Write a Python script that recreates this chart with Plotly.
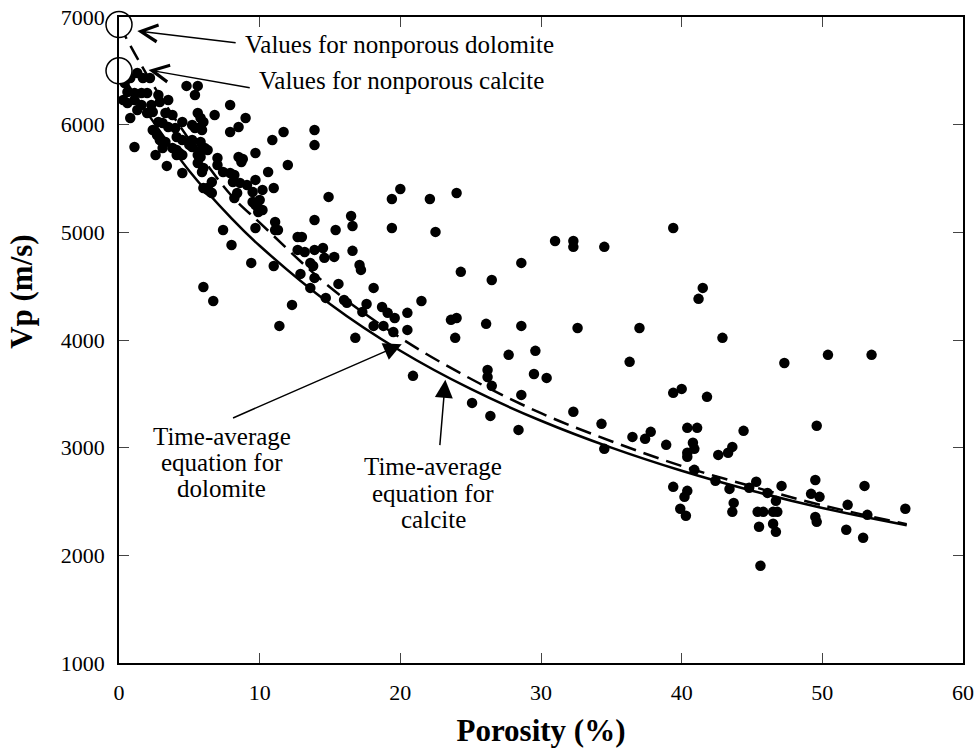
import plotly.graph_objects as go

# Measured porosity (%) and P-wave velocity (m/s)
porosity = [
    1.3, 0.8, 0.4, 1.7, 2.2, 4.8, 5.6, 5.4, 0.6, 1.1, 1.6, 2.0, 0.3, 0.6, 1.1, 2.8, 2.9, 3.5, 1.6, 2.3,
    2.4, 2.0, 1.3, 0.8, 3.3, 3.8, 5.6, 5.8, 2.8, 3.1, 3.5, 4.0, 4.5, 5.2, 2.4, 2.7, 5.4, 5.9, 4.1, 4.5,
    2.9, 3.3, 5.2, 5.8, 1.1, 3.1, 3.8, 4.1, 5.8, 6.3, 2.6, 4.1, 4.5, 5.6, 5.2, 3.4, 4.3, 4.5, 5.6, 5.9,
    6.3, 5.0, 6.8, 6.0, 5.8, 6.1, 5.8, 7.0, 6.0, 7.0, 6.6, 6.0, 6.5, 6.3, 6.6,
    7.9, 9.0, 8.5, 7.9, 11.7, 10.9, 9.7, 8.5, 8.7, 7.4, 7.9, 8.2, 10.6, 12.0, 8.1, 8.6, 9.1, 9.7, 8.4, 8.2,
    9.5, 10.2, 11.0, 9.5, 9.7, 10.0, 9.9, 10.2, 11.1, 11.1, 11.3, 9.7, 7.4, 8.0, 9.4, 11.0, 6.0, 6.7, 11.4, 12.3,
    9.8, 8.8,
    13.9, 13.9, 12.7, 13.0, 12.7, 13.2, 13.9, 14.5, 14.6, 15.3, 13.9, 14.9, 15.4, 16.5, 16.6, 16.6, 13.6, 13.8,
    17.1, 17.2, 12.9, 13.9, 13.6, 15.6, 18.1, 14.7, 16.0, 16.2, 17.6, 17.3, 18.7, 19.1, 19.6, 20.5, 21.5, 18.1,
    18.8, 19.5, 20.5, 16.8, 20.0, 19.4, 22.1, 24.0, 19.4, 22.5, 23.6, 24.0, 23.9, 24.3, 20.9, 25.1,
    26.5, 28.6, 26.1, 28.6, 27.7, 29.6, 26.2, 26.2, 26.5, 29.5, 30.4, 28.6, 26.4, 28.4, 31.0, 32.3, 32.3, 34.5,
    32.6, 32.3, 34.3, 34.5,
    39.4, 41.5, 41.2, 37.0, 42.9, 36.3, 39.4, 40.0, 41.8, 36.5, 37.4, 37.8, 38.9, 40.4, 41.1, 40.8, 40.9, 40.4,
    40.4, 44.4, 43.6, 43.3, 42.6, 40.9, 42.4, 43.4, 39.4, 40.4, 40.2, 43.7, 43.6, 39.9, 40.3,
    44.8, 45.3, 46.1, 46.7, 45.4, 45.8, 46.5, 46.8, 45.5, 46.5, 46.7, 45.6, 47.3, 50.4, 53.5, 49.6, 47.1, 49.5,
    53.0, 55.9, 52.9, 51.7, 51.8, 53.2, 49.2, 49.8, 49.5, 49.6,
]
vp = [
    6480, 6434, 6387, 6434, 6434, 6360, 6360, 6276, 6304, 6294, 6294, 6294, 6229, 6201, 6229, 6276, 6210, 6229, 6183, 6183,
    6118, 6109, 6136, 6062, 6109, 6090, 6109, 6062, 6025, 6016, 5979, 5969, 6025, 5997, 5951, 5904, 5969, 5951, 5886, 5858,
    5858, 5839, 5858, 5839, 5793, 5784, 5784, 5765, 5765, 5765, 5719, 5719, 5719, 5719, 5793, 5617, 5737, 5551, 5644, 5561,
    5412, 5812, 6090, 6025, 5979, 5784, 5700, 5691, 5598, 5626, 5468, 5412, 5375, 5394, 5366,
    6183, 6062, 5979, 5932, 5932, 5858, 5737, 5700, 5654, 5561, 5551, 5533, 5561, 5626, 5468, 5459, 5440, 5487, 5366, 5319,
    5375, 5394, 5412, 5282, 5254, 5301, 5189, 5208, 5096, 5022, 5022, 5041, 5022, 4883, 4716, 4688, 4493, 4363, 4131, 4326,
    5273, 5682,
    5950, 5810, 4957, 4957, 4837, 4818, 4837, 4855, 4763, 4772, 5115, 5329, 5022, 5152, 5059, 4828, 4716, 4688,
    4697, 4651, 4614, 4577, 4484, 4521, 4484, 4391, 4372, 4345, 4335, 4261, 4307, 4252, 4205, 4252, 4363, 4131,
    4131, 4075, 4094, 4020, 5403, 5310, 5310, 5366, 5041, 5004, 4187, 4205, 4020, 4633, 3667, 3416,
    4558, 4716, 4150, 4131, 3862, 3899, 3722, 3657, 3574, 3685, 3648, 3490, 3295, 3165, 4920, 4920, 4865, 4865,
    4112, 3333, 3221, 2989,
    5041, 4484, 4382, 4112, 4020, 3797, 3509, 3546, 3472, 3100, 3082, 3147, 3026, 3184, 3184, 3045, 2989, 2952,
    2915, 3156, 3007, 2952, 2933, 2794, 2692, 2617, 2636, 2599, 2543, 2487, 2404, 2432, 2367,
    2627, 2683, 2580, 2506, 2404, 2404, 2404, 2404, 2265, 2293, 2218, 1903, 3787, 3862, 3862, 3203, 2645, 2700,
    2645, 2432, 2163, 2237, 2469, 2376, 2571, 2543, 2357, 2311,
]

# Time-average curves
curve_phi = [0, 2, 5, 8, 10, 15, 20, 25, 30, 35, 40, 45, 50, 56]
calcite_vp = [6500, 6110, 5570, 5130, 4875, 4335, 3900, 3545, 3250, 3000, 2785, 2600, 2440, 2280]
dolomite_vp = [6930, 6460, 5860, 5340, 5090, 4490, 4020, 3640, 3320, 3060, 2830, 2640, 2465, 2290]

# Nonporous end members
nonporous_phi = [0, 0]
nonporous_vp = [6930, 6500]

x_ticks = [0, 10, 20, 30, 40, 50, 60]
y_ticks = [1000, 2000, 3000, 4000, 5000, 6000, 7000]

FONT = "Liberation Serif"

fig = go.Figure()
fig.add_trace(go.Scatter(x=porosity, y=vp, mode="markers",
                         marker=dict(size=10.5, color="black"), showlegend=False))
fig.add_trace(go.Scatter(x=curve_phi, y=calcite_vp, mode="lines", line_shape="spline",
                         line=dict(color="black", width=2.5), showlegend=False))
fig.add_trace(go.Scatter(x=curve_phi, y=dolomite_vp, mode="lines", line_shape="spline",
                         line=dict(color="black", width=2.5, dash="16px,8px"), showlegend=False))
fig.add_trace(go.Scatter(x=nonporous_phi, y=nonporous_vp, mode="markers", cliponaxis=False,
                         marker=dict(size=26, color="white", line=dict(color="black", width=1.5)),
                         showlegend=False))

ann = []
tfont = dict(family=FONT, size=25, color="black")
ann.append(dict(x=8.8, y=6749, xref="x", yref="y", text="Values for nonporous dolomite",
                showarrow=False, xanchor="left", yanchor="middle", font=tfont))
ann.append(dict(x=9.8, y=6406, xref="x", yref="y", text="Values for nonporous calcite",
                showarrow=False, xanchor="left", yanchor="middle", font=tfont))
# multi-line labels, one annotation per line (line centres in data units)
for cx, lines, ys in [(7.3, ["Time-average", "equation for", "dolomite"], [3100, 2859, 2618]),
                      (22.35, ["Time-average", "equation for", "calcite"], [2822, 2571, 2330])]:
    for t, yy in zip(lines, ys):
        ann.append(dict(x=cx, y=yy, xref="x", yref="y", text=t, showarrow=False,
                        xanchor="center", yanchor="middle", font=tfont))
# arrows
for tip, tail, head, size in [((1.3, 6870), (8.4, 6760), 5, 2.2),
                              ((2.1, 6508), (9.4, 6340), 5, 2.2),
                              ((20.1, 3960), (8.0, 3270), 2, 2.4),
                              ((23.2, 3630), (22.8, 3010), 2, 2.4)]:
    ann.append(dict(x=tip[0], y=tip[1], ax=tail[0], ay=tail[1], xref="x", yref="y",
                    axref="x", ayref="y", text="", showarrow=True, arrowhead=head,
                    arrowsize=size, arrowwidth=1.5, arrowcolor="black", standoff=0))
# y-axis title
ann.append(dict(x=-0.115, y=0.576, xref="paper", yref="paper", text="<b>Vp (m/s)</b>",
                textangle=-90, showarrow=False, xanchor="center", yanchor="middle",
                font=dict(family=FONT, size=31, color="black")))

fig.update_layout(
    width=977, height=750,
    margin=dict(l=119, r=14, t=17, b=87),
    plot_bgcolor="white", paper_bgcolor="white",
    font=dict(family=FONT, color="black"),
    annotations=ann,
    xaxis=dict(range=[0, 60], tickvals=x_ticks, ticks="inside", ticklen=10, tickwidth=1,
               showline=True, linecolor="black", linewidth=1.5, mirror="allticks",
               showgrid=False, zeroline=False, tickfont=dict(family=FONT, size=22),
               ticklabelstandoff=9, automargin=False,
               title=dict(text="<b>Porosity (%)</b>", font=dict(family=FONT, size=31), standoff=15)),
    yaxis=dict(range=[1000, 7000], tickvals=y_ticks, ticks="inside", ticklen=10, tickwidth=1,
               showline=True, linecolor="black", linewidth=1.5, mirror="allticks",
               showgrid=False, zeroline=False, tickfont=dict(family=FONT, size=22),
               ticklabelstandoff=8, automargin=False),
)

fig.write_html("out.html")
